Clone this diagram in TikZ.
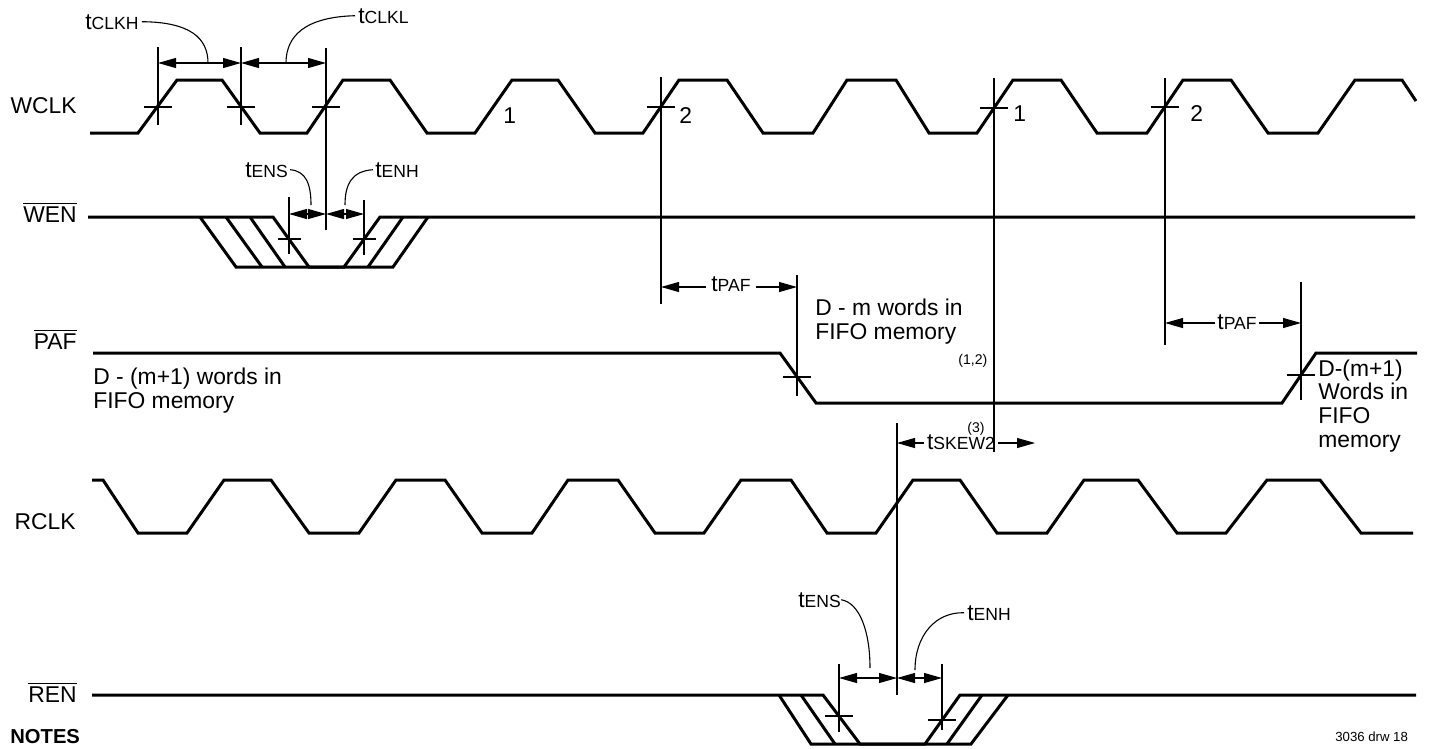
\documentclass[tikz,border=0pt]{standalone}
\usepackage{amsmath}
\usepackage{fontspec}
\setmainfont{Liberation Sans}
\usetikzlibrary{arrows.meta, positioning}

\newcommand{\tpar}[1]{t{\fontsize{10}{11}\selectfont #1}}

\begin{document}
\begin{tikzpicture}[x=0.2mm, y=-0.2mm,
    wave/.style={line width=0.6mm},
    guide/.style={line width=0.22mm},
    dimarrow/.style={guide, {Triangle[length=3.6mm, width=2mm]}-{Triangle[length=3.6mm, width=2mm]}},
    onearrow/.style={guide, -{Triangle[length=3.6mm, width=2mm]}},
    lab/.style={inner sep=0pt, font=\fontsize{13}{13.4}\selectfont, anchor=base west, align=left},
    sig/.style={lab, anchor=base east},
    small/.style={inner sep=0pt, font=\fontsize{8}{9}\selectfont, anchor=base west}]
  \useasboundingbox (0,0) rectangle (1429,748);

  % signal names
  \node[sig] (wclk) at (77,113) {WCLK};
  \node[sig] (wen) at (77,222) {$\overline{\text{WEN}}$};
  \node[sig] (paf) at (77,349) {$\overline{\text{PAF}}$};
  \node[sig] (rclk) at (76,529) {RCLK};
  \node[sig] (ren) at (77,702) {$\overline{\text{REN}}$};

  % WCLK
  \draw[wave] (90,133) -- (138,133) -- (177,80) -- (222,80) -- (260,133) -- (307,133)
    -- (343,80) -- (390,80) -- (427,133) -- (475,133) -- (512,80) -- (558,80)
    -- (595,133) -- (643,133) -- (679,80) -- (727,80) -- (763,133) -- (813,133)
    -- (847,80) -- (896,80) -- (929,133) -- (977,133) -- (1013,80) -- (1061,80)
    -- (1097,133) -- (1147,133) -- (1183,80) -- (1231,80) -- (1268,133) -- (1318,133)
    -- (1355,80) -- (1402,80) -- (1416,101);
  \coordinate (w1) at (158,107);
  \coordinate (w2) at (241,107);
  \coordinate (w3) at (326,107);
  \coordinate (w4) at (661,107);
  \coordinate (w5) at (994,108);
  \coordinate (w6) at (1165,107);
  \node[lab] (one a) at (503,123) {1};
  \node[lab] (two a) at (679,123) {2};
  \node[lab] (one b) at (1013,121) {1};
  \node[lab] (two b) at (1190,121) {2};

  % WEN
  \draw[wave] (88,217) -- (273,217) -- (309,267) -- (344,267) -- (380,217) -- (1415,217);
  \draw[wave] (200,217) -- (236,267) -- (393,267) -- (428,217);
  \draw[wave] (226,217) -- (262,267);
  \draw[wave] (250,217) -- (285,267);
  \draw[wave] (368,267) -- (403,217);
  \coordinate (es) at (289,239);
  \coordinate (eh) at (364,239);

  % PAF
  \draw[wave] (93,353) -- (780,353) -- (816,403) -- (1282,403) -- (1316,353) -- (1417,353);
  \coordinate (pf) at (797,377);
  \coordinate (pr) at (1301,375);
  \node[lab] (words a) at (93,408) {D - (m+1) words in\\FIFO memory};
  \node[lab] (words b) at (815,339) {D - m words in\\FIFO memory};
  \node[lab] (words c) at (1318,447) {D-(m+1)\\Words in\\FIFO\\memory};

  % RCLK
  \draw[wave] (92,480) -- (103,480) -- (138,533) -- (187,533) -- (224,480) -- (271,480)
    -- (309,533) -- (359,533) -- (396,480) -- (445,480) -- (482,533) -- (532,533)
    -- (568,480) -- (618,480) -- (655,533) -- (704,533) -- (741,480) -- (791,480)
    -- (827,533) -- (876,533) -- (913,480) -- (960,480) -- (997,533) -- (1047,533)
    -- (1084,480) -- (1138,480) -- (1177,533) -- (1226,533) -- (1267,480) -- (1320,480)
    -- (1361,533) -- (1413,533);
  \coordinate (rk) at (897,503);

  % REN
  \draw[wave] (92,695) -- (823,695) -- (860,744) -- (925,744) -- (960,695) -- (1416,695);
  \draw[wave] (779,695) -- (811,744) -- (971,744) -- (1008,695);
  \draw[wave] (801,695) -- (835,744);
  \draw[wave] (947,744) -- (982,695);
  \coordinate (rs) at (839,716);
  \coordinate (rh) at (942,720);

  % guide lines and crossing marks
  \draw[guide] (w1 |- 0,47) -- (w1 |- 0,125);
  \draw[guide] (w2 |- 0,47) -- (w2 |- 0,125);
  \draw[guide] (w3 |- 0,48) -- (w3 |- 0,230);
  \draw[guide] (w4 |- 0,77) -- (w4 |- 0,304);
  \draw[guide] (w5 |- 0,78) -- (w5 |- 0,452);
  \draw[guide] (w6 |- 0,78) -- (w6 |- 0,345);
  \draw[guide] (es |- 0,197) -- (es |- 0,254);
  \draw[guide] (eh |- 0,200) -- (eh |- 0,255);
  \draw[guide] (pf |- 0,275) -- (pf |- 0,396);
  \draw[guide] (pr |- 0,282) -- (pr |- 0,400);
  \draw[guide] (rk |- 0,423) -- (rk |- 0,695);
  \draw[guide] (rs |- 0,664) -- (rs |- 0,732);
  \draw[guide] (rh |- 0,664) -- (rh |- 0,730);
  \foreach \c in {w1, w2, w3, w4, w5, w6, pf, pr, rs, rh}
    \draw[guide] ([xshift=-2.8mm]\c) -- ([xshift=2.8mm]\c);
  \foreach \c in {es, eh}
    \draw[guide] ([xshift=-2.3mm]\c) -- ([xshift=2.3mm]\c);

  % clock high / low
  \draw[dimarrow] (w1 |- 0,63) -- (w2 |- 0,63);
  \draw[dimarrow] (w2 |- 0,63) -- (w3 |- 0,63);
  \node[lab] (tclkh) at (85,29) {\tpar{CLKH}};
  \node[lab] (tclkl) at (358,23) {\tpar{CLKL}};
  \coordinate (tclkh end) at (208,63);
  \coordinate (tclkl end) at (286,63);
  \draw[guide] ([xshift=0.6mm]tclkh.east) .. controls (190,22) and (208,38) .. (tclkh end);
  \draw[guide] ([xshift=-0.6mm]tclkl.west) .. controls (305,17) and (286,36) .. (tclkl end);

  % WEN setup / hold
  \draw[dimarrow] (es |- 0,214) -- (w3 |- 0,214);
  \draw[dimarrow] (w3 |- 0,214) -- (eh |- 0,214);
  \node[lab] (tens a) at (245,177) {\tpar{ENS}};
  \node[lab] (tenh a) at (375,177) {\tpar{ENH}};
  \coordinate (tens a end) at (311,205);
  \coordinate (tenh a end) at (345,205);
  \draw[guide] ([xshift=0.4mm]tens a.east) .. controls (306,171) and (311,184) .. (tens a end);
  \draw[guide] ([xshift=-0.4mm]tenh a.west) .. controls (352,171) and (345,184) .. (tenh a end);

  % PAF delays
  \node[lab, anchor=base, inner xsep=1mm] (tpaf a) at (731,291) {\tpar{PAF}};
  \draw[onearrow] (tpaf a.west |- 0,287) -- (w4 |- 0,287);
  \draw[onearrow] (tpaf a.east |- 0,287) -- (pf |- 0,287);
  \node[lab, anchor=base, inner xsep=0.4mm] (tpaf b) at (1237,329) {\tpar{PAF}};
  \draw[onearrow] (tpaf b.west |- 0,323) -- (w6 |- 0,323);
  \draw[onearrow] (tpaf b.east |- 0,323) -- (pr |- 0,323);

  % skew
  \node[lab, anchor=base, inner xsep=0.6mm] (tskew) at (961,449) {\tpar{SKEW2}};
  \coordinate (tskew end) at (1035,443);
  \draw[onearrow] (tskew.west |- 0,443) -- (rk |- 0,443);
  \draw[onearrow] (tskew.east |- 0,443) -- (tskew end);
  \node[small] (note three) at (967,432) {(3)};
  \node[small] (note onetwo) at (958,364) {(1,2)};

  % REN setup / hold
  \draw[dimarrow] (rs |- 0,678) -- (rk |- 0,678);
  \draw[dimarrow] (rk |- 0,678) -- (rh |- 0,678);
  \node[lab] (tens b) at (798,607) {\tpar{ENS}};
  \node[lab] (tenh b) at (967,620) {\tpar{ENH}};
  \coordinate (tens b end) at (870,668);
  \coordinate (tenh b end) at (915,670);
  \draw[guide] (tens b.east) .. controls (860,603) and (870,632) .. (tens b end);
  \draw[guide] ([xshift=-0.6mm]tenh b.west) .. controls (935,612) and (915,636) .. (tenh b end);

  \node[small, font=\fontsize{7.5}{9}\selectfont] (drw) at (1335,741) {3036 drw 18};
  \node[lab, font=\fontsize{11.5}{12}\selectfont\bfseries] (notes) at (10,743) {NOTES};
\end{tikzpicture}
\end{document}
